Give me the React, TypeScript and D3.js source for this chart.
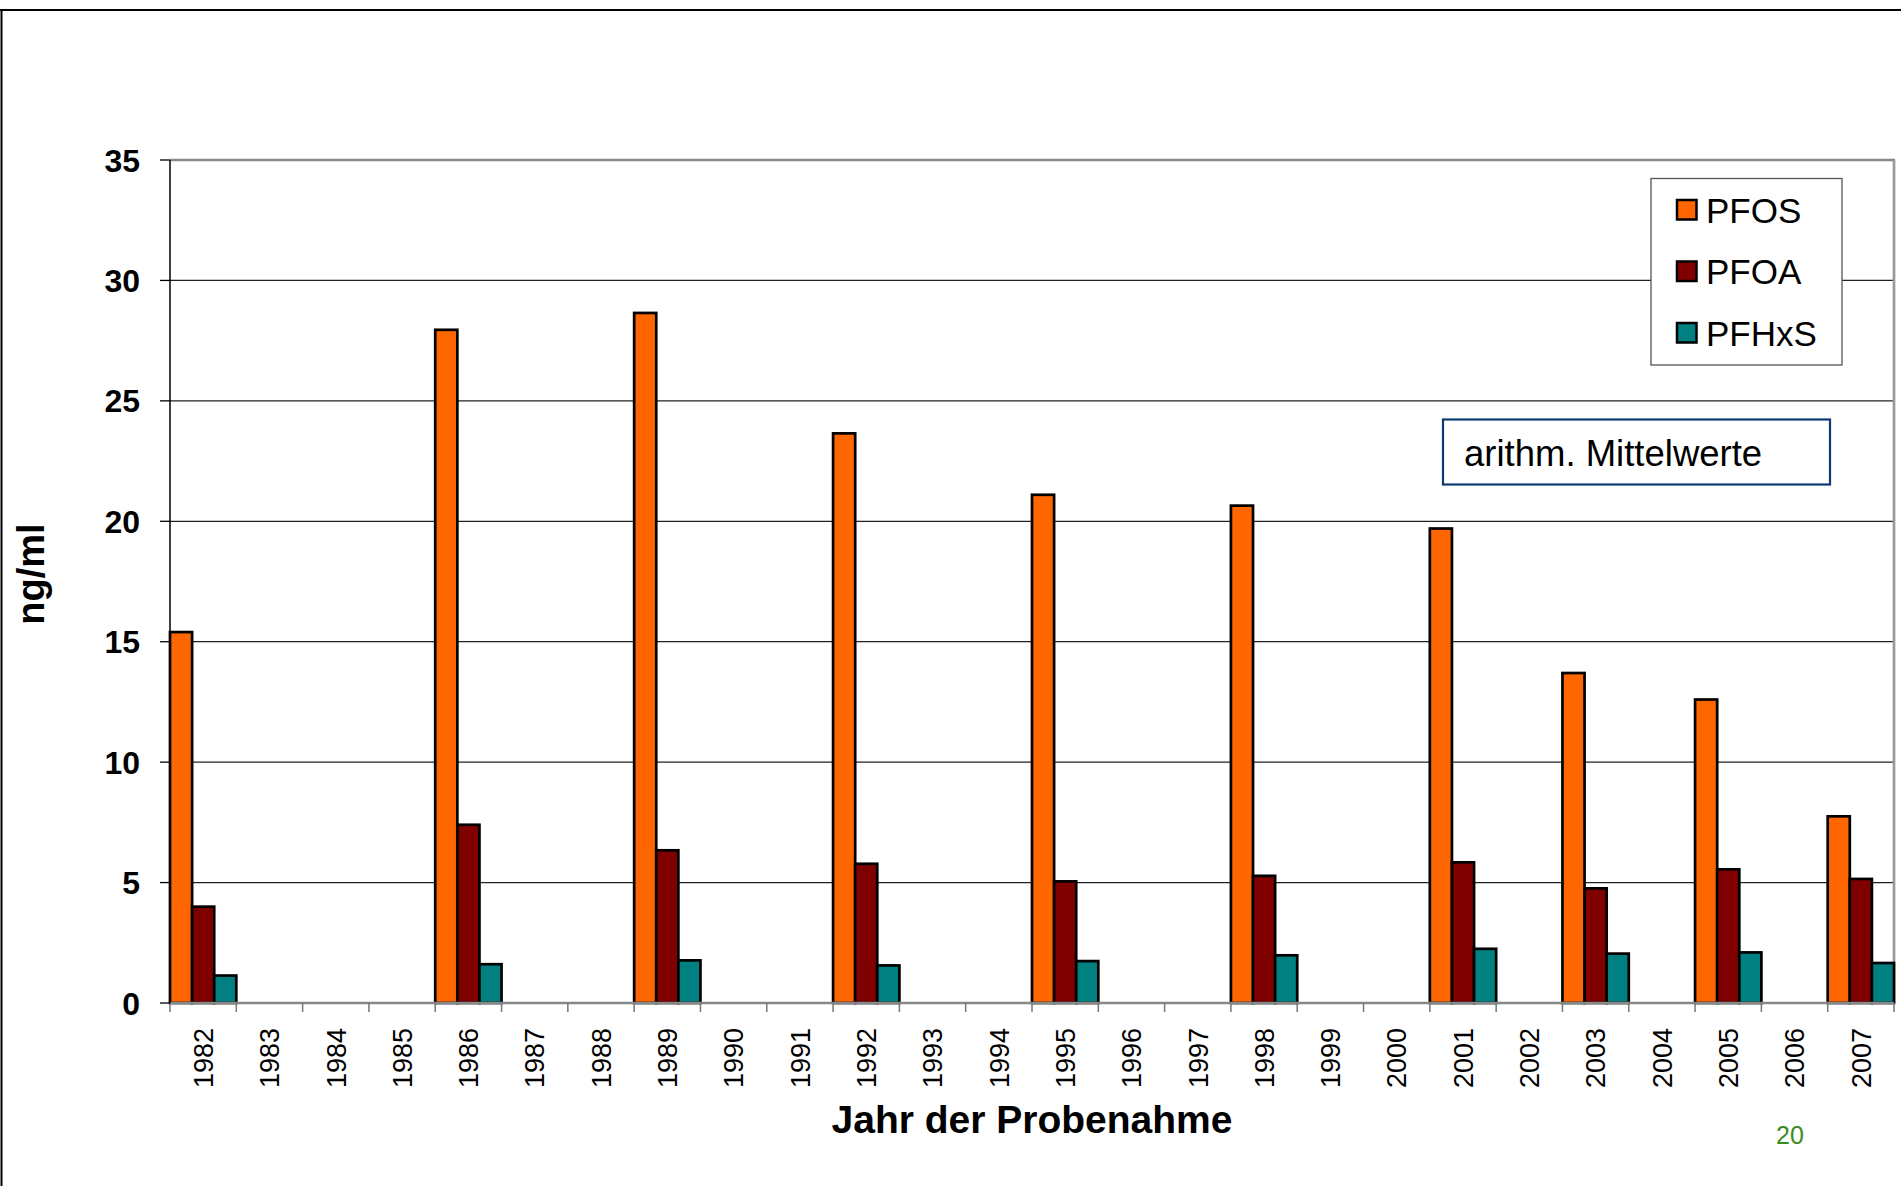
import React from "react";
import * as d3 from "d3";

const years = ["1982","1983","1984","1985","1986","1987","1988","1989","1990","1991","1992","1993","1994","1995","1996","1997","1998","1999","2000","2001","2002","2003","2004","2005","2006","2007"];
const seriesNames = ["PFOS", "PFOA", "PFHxS"];
const seriesColors = ["#FF6600", "#800000", "#008080"];
const pfos = [15.4,null,null,null,27.95,null,null,28.65,null,null,23.65,null,null,21.1,null,null,20.65,null,null,19.7,null,13.7,null,12.6,null,7.75];
const pfoa = [4.0,null,null,null,7.4,null,null,6.34,null,null,5.78,null,null,5.05,null,null,5.28,null,null,5.84,null,4.76,null,5.55,null,5.15];
const pfhxs = [1.14,null,null,null,1.61,null,null,1.77,null,null,1.56,null,null,1.74,null,null,1.98,null,null,2.25,null,2.05,null,2.1,null,1.66];
const yTicks = [0, 5, 10, 15, 20, 25, 30, 35];
const yTitle = "ng/ml";
const xTitle = "Jahr der Probenahme";
const noteText = "arithm. Mittelwerte";
const pageNumber = "20";

const W = 1901, H = 1186;
const L = 170, R = 1894, T = 160, B = 1003;
const FONT = "'Liberation Sans', Arial, Helvetica, sans-serif";

export default function App() {
  const x = d3.scaleBand<string>().domain(years).range([L, R]).padding(0);
  const xs = d3.scaleBand<string>().domain(seriesNames).range([0, x.bandwidth()]).padding(0);
  const y = d3.scaleLinear().domain([0, 35]).range([B, T]);
  const data = [pfos, pfoa, pfhxs];

  return (
    <svg width={W} height={H} style={{ position: "absolute", left: 0, top: 0, display: "block", background: "#fff" }} fontFamily={FONT}>
      {/* slide frame */}
      <line x1={0} x2={W} y1={10} y2={10} stroke="#000" strokeWidth={2} />
      <line x1={1.5} x2={1.5} y1={10} y2={H} stroke="#000" strokeWidth={2} />

      {/* gridlines */}
      {yTicks.filter(t => t > 0 && t < 35).map(t => (
        <line key={"g" + t} x1={L} x2={R} y1={y(t)} y2={y(t)} stroke="#222" strokeWidth={1.3} />
      ))}
      {/* plot border top/right */}
      <line x1={L} x2={R + 1} y1={y(35)} y2={y(35)} stroke="#888" strokeWidth={2.5} />
      <line x1={R} x2={R} y1={y(35)} y2={B} stroke="#999" strokeWidth={2.7} />

      {/* bars */}
      {data.map((vals, si) =>
        vals.map((v, i) =>
          v == null ? null : (
            <rect
              key={si + "-" + i}
              x={(x(years[i]) as number) + (xs(seriesNames[si]) as number)}
              y={y(v)}
              width={xs.bandwidth()}
              height={B - y(v)}
              fill={seriesColors[si]}
              stroke="#000"
              strokeWidth={2.7}
            />
          )
        )
      )}

      {/* x axis */}
      <line x1={L} x2={R} y1={B} y2={B} stroke="#888" strokeWidth={2.5} />
      {years.map((yr, i) => (
        <line key={"xt" + i} x1={x(yr) as number} x2={x(yr) as number} y1={B} y2={B + 9} stroke="#777" strokeWidth={1.5} />
      ))}
      <line x1={R} x2={R} y1={B} y2={B + 9} stroke="#777" strokeWidth={1.5} />
      {years.map(yr => {
        const cx = (x(yr) as number) + x.bandwidth() / 2;
        return (
          <text key={"xl" + yr} transform={`translate(${cx},1028) rotate(-90)`} textAnchor="end" dy="0.36em" fontSize={27} fill="#000">
            {yr}
          </text>
        );
      })}

      {/* y axis */}
      <line x1={L} x2={L} y1={T} y2={B} stroke="#000" strokeWidth={1.5} />
      {yTicks.map(t => (
        <g key={"yt" + t}>
          <line x1={L - 10} x2={L} y1={y(t)} y2={y(t)} stroke="#000" strokeWidth={1.3} />
          <text x={140} y={y(t)} dy="0.36em" textAnchor="end" fontSize={32} fontWeight="bold" fill="#000">
            {t}
          </text>
        </g>
      ))}

      {/* titles */}
      <text x={(L + R) / 2} y={1133} textAnchor="middle" fontSize={39} fontWeight="bold" fill="#000">{xTitle}</text>
      <text transform={`translate(44,574) rotate(-90)`} textAnchor="middle" fontSize={38} fontWeight="bold" fill="#000">{yTitle}</text>

      {/* legend */}
      <rect x={1651} y={178.5} width={191} height={186.5} fill="#fff" stroke="#555" strokeWidth={1.3} />
      {seriesNames.map((s, i) => (
        <g key={"lg" + s}>
          <rect x={1677} y={200 + i * 61.5} width={19.5} height={19.5} fill={seriesColors[i]} stroke="#000" strokeWidth={2.5} />
          <text x={1706} y={210 + i * 61.5} dy="0.36em" fontSize={35} fill="#000">{s}</text>
        </g>
      ))}

      {/* note box */}
      <rect x={1443} y={419.5} width={387} height={65} fill="#fff" stroke="#0d3a73" strokeWidth={2.2} />
      <text x={1464} y={465.5} fontSize={36.5} fill="#000">{noteText}</text>

      {/* page number */}
      <text x={1776} y={1144} fontSize={25} fill="#3a8c1f">{pageNumber}</text>
    </svg>
  );
}
